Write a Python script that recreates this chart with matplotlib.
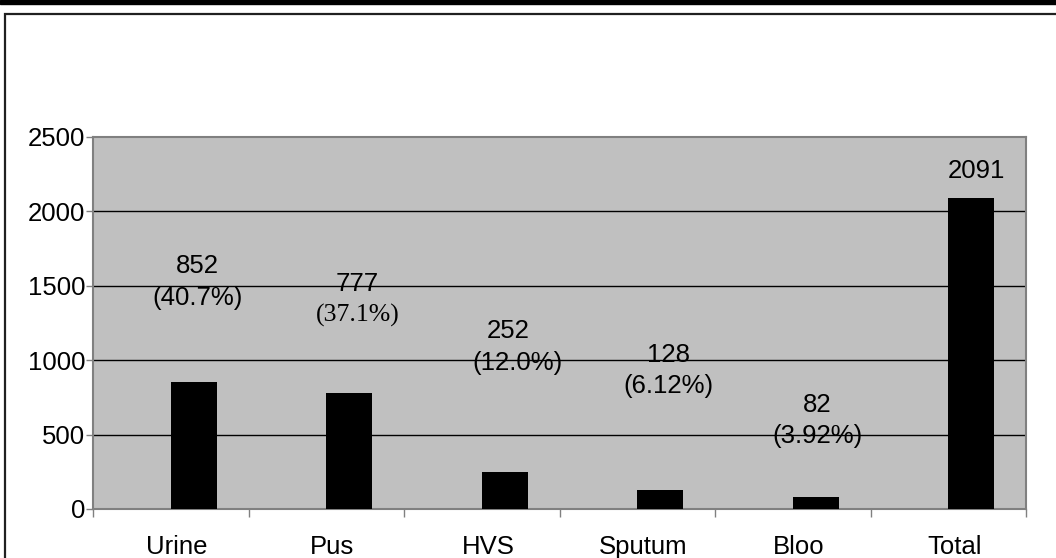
import matplotlib.pyplot as plt
import matplotlib.patches as patches
import numpy as np

plt.rcParams['font.family'] = ['Liberation Sans', 'DejaVu Sans']

categories = ['Urine', 'Pus', 'HVS', 'Sputum', 'Bloo', 'Total']
counts = [852, 777, 252, 128, 82, 2091]
percent_labels = ['(40.7%)', '(37.1%)', '(12.0%)', '(6.12%)', '(3.92%)', '']
yticks = [0, 500, 1000, 1500, 2000, 2500]

# where the floating labels sit (data coords)
num_x = [0.17, 1.20, 2.17, 3.20, 4.16, 5.18]
num_y = [1633, 1512, 1196, 1035, 699, 2271]
pct_x = [0.17, 1.20, 2.23, 3.20, 4.16, 5.18]
pct_y = [1418, 1300, 981, 827, 491, 0]

fig = plt.figure(figsize=(10.56, 5.58), dpi=100)
ax = fig.add_axes([93/1056, 1-509/558, (1026-93)/1056, (509-137)/558])

x = np.arange(len(categories))
ax.bar(x, counts, width=0.296, align='edge', color='black', zorder=3)

ax.set_facecolor('#C0C0C0')
ax.set_xlim(-0.5, len(categories)-0.5)
ax.set_ylim(0, 2500)
ax.set_yticks(yticks)
ax.tick_params(axis='y', labelsize=18.5, length=5, width=1, color='#808080', pad=0.5)
for yv in yticks[1:-1]:
    ax.axhline(yv, color='black', lw=1, zorder=1)

ax.set_xticks(x + 0.04)
ax.set_xticklabels(categories)
ax.set_xticks(np.arange(len(categories)+1) - 0.5, minor=True)
ax.tick_params(axis='x', which='major', length=0, labelsize=18.5, pad=19)
ax.tick_params(axis='x', which='minor', length=6, width=1, color='#808080')

for s in ax.spines.values():
    s.set_color('#808080')
    s.set_linewidth(1.5)

for i in range(len(categories)):
    ax.text(num_x[i], num_y[i], str(counts[i]), ha='center', va='center', fontsize=18.5, zorder=4)
    if percent_labels[i]:
        if categories[i] == 'Pus':
            ax.text(pct_x[i], pct_y[i], percent_labels[i], ha='center', va='center',
                    fontsize=18.5, family='Liberation Serif', zorder=4)
        else:
            ax.text(pct_x[i], pct_y[i], percent_labels[i], ha='center', va='center', fontsize=18.5, zorder=4)

# page border bits
fig.patches.append(patches.Rectangle((0, 1-4/558), 1, 4/558, transform=fig.transFigure,
                                     color='black', zorder=0))
fig.patches.append(patches.Rectangle((5/1056, -0.05), 1.1, 1-14/558+0.05, transform=fig.transFigure,
                                     fill=False, edgecolor='#202020', lw=1.6, zorder=0))

fig.savefig('out.png', dpi=100)
